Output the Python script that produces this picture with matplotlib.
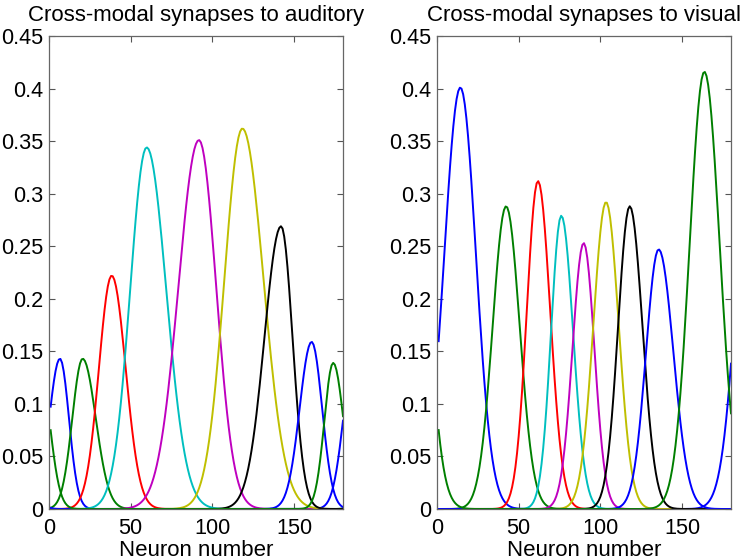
import numpy as np
import matplotlib
matplotlib.use("Agg")
import matplotlib.pyplot as plt

plt.rcParams['font.family'] = ['Liberation Sans', 'DejaVu Sans']

# ---- data (peak position, peak height, left/right widths) ----
neurons = np.arange(1, 181)
colors = ['#0000ff', '#007f00', '#ff0000', '#00bfbf', '#bf00bf', '#bfbf00', '#000000', '#0000ff', '#007f00']

aud_centers = [6.7, 20.6, 38.4, 59.8, 91.8, 118.4, 142.1, 160.8, 174.0]
aud_heights = [0.143, 0.143, 0.222, 0.344, 0.351, 0.362, 0.269, 0.159, 0.139]
aud_sigma_left = [6.5, 6.3, 7.8, 10.1, 12.5, 11.0, 10.2, 7.3, 5.4]
aud_sigma_right = [5.5, 8.0, 8.5, 12.0, 10.5, 12.9, 7.0, 6.4, 6.3]

vis_centers = [14.3, 42.3, 61.8, 76.1, 89.8, 103.5, 118.0, 135.7, 163.7]
vis_heights = [0.401, 0.288, 0.312, 0.279, 0.253, 0.292, 0.288, 0.247, 0.416]
vis_sigma_left = [9.8, 8.2, 6.8, 6.25, 6.8, 7.7, 7.1, 7.7, 9.0]
vis_sigma_right = [9.5, 8.3, 7.5, 7.2, 6.55, 7.7, 7.75, 9.0, 9.35]

titles = ['Cross-modal synapses to auditory', 'Cross-modal synapses to visual']
xlabel = 'Neuron number'
xticks = [0, 50, 100, 150]
yticks = [0, 0.05, 0.1, 0.15, 0.2, 0.25, 0.3, 0.35, 0.4, 0.45]
yticklabels = ['0', '0.05', '0.1', '0.15', '0.2', '0.25', '0.3', '0.35', '0.4', '0.45']


def curve(c, h, sl, sr):
    d = (neurons - c + 90) % 180 - 90
    s = np.where(d < 0, sl, sr)
    return h * np.exp(-d ** 2 / (2 * s ** 2))


fig = plt.figure(figsize=(7.43, 5.6), dpi=100)
W, H = 743, 560
panels = [
    (49, (aud_centers, aud_heights, aud_sigma_left, aud_sigma_right)),
    (437, (vis_centers, vis_heights, vis_sigma_left, vis_sigma_right)),
]
for i, (left, (cs, hs, sls, srs)) in enumerate(panels):
    ax = fig.add_axes([left / W, (H - 509) / H, 294 / W, 473 / H])
    for k in range(len(cs)):
        ax.plot(neurons, curve(cs[k], hs[k], sls[k], srs[k]), color=colors[k], lw=1.4)
    ax.set_xlim(0, 180)
    ax.set_ylim(0, 0.45)
    ax.set_xticks(xticks)
    ax.set_yticks(yticks)
    ax.set_yticklabels(yticklabels)
    ax.tick_params(direction='in', length=4, width=0.8, labelcolor='black', labelsize=15.6,
                   top=True, right=True, color='#555555')
    ax.tick_params(axis='y', pad=4)
    ax.tick_params(axis='x', pad=6.5)
    for sp in ax.spines.values():
        sp.set_color('#666666')
        sp.set_linewidth(0.9)
    ax.set_title(titles[i], fontsize=16, pad=11)
    ax.set_xlabel(xlabel, fontsize=16, labelpad=0.5)

fig.savefig('out.png', dpi=100)
